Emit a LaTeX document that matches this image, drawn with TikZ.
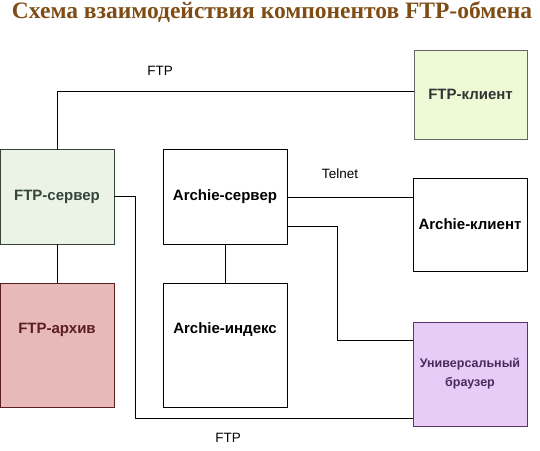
\documentclass[tikz,border=0pt]{standalone}
\usepackage{fontspec}
\setmainfont{Liberation Serif}
\setsansfont{Liberation Sans}
\usetikzlibrary{calc,positioning}
\definecolor{clientfill}{HTML}{EEF9D5}
\definecolor{serverfill}{HTML}{EAF3E6}
\definecolor{serverline}{HTML}{34443A}
\definecolor{archivefill}{HTML}{E8B9B9}
\definecolor{archiveline}{HTML}{5A1E1E}
\definecolor{browserfill}{HTML}{E8CCF8}
\definecolor{browserline}{HTML}{5E3470}
\definecolor{titlebrown}{HTML}{7E4C14}

\begin{document}
\begin{tikzpicture}[x=1pt,y=-1pt,
    box/.style={draw,rectangle,inner sep=0pt,font=\sffamily\bfseries\fontsize{15}{18}\selectfont,align=center},
    proto/.style={font=\sffamily\fontsize{13.5}{16}\selectfont},
    wire/.style={draw,line width=0.8pt}]
\useasboundingbox (0,0) rectangle (540,450);
\node (title) [text=titlebrown] at (272,12) {\fontsize{23.5}{28}\selectfont\bfseries Схема взаимодействия компонентов FTP-обмена};

\node (ftpclient) [box,fill=clientfill,draw=black!60,minimum width=113pt,minimum height=89pt,text=black!80] at (470.5,94.5) {FTP-клиент};
\node (ftpserver) [box,fill=serverfill,draw=serverline,minimum width=114pt,minimum height=95pt,text=serverline] at (57,196.5) {FTP-сервер};
\node (ftparchive) [box,fill=archivefill,draw=archiveline,minimum width=114pt,minimum height=124pt,text depth=34pt,text=archiveline] at (57,345) {FTP-архив};
\node (archieserver) [box,fill=white,minimum width=124pt,minimum height=95pt] at (225,196.5) {Archie-сервер};
\node (archieindex) [box,fill=white,minimum width=124pt,minimum height=124pt,text depth=34pt] at (225,345) {Archie-индекс};
\node (archieclient) [box,fill=white,minimum width=114pt,minimum height=93pt] at (470,224.5) {Archie-клиент};
\node (browser) [box,fill=browserfill,draw=browserline,minimum width=114pt,minimum height=104pt,text=browserline!80!black,font=\sffamily\bfseries\fontsize{12.5}{19}\selectfont] at (470,374) {Универсальный\\браузер};

\draw[wire] (ftpserver.north) |- ($(ftpclient.north west)+(0,42)$);
\draw[wire] (ftpserver.south) -- (ftparchive.north);
\draw[wire] (ftpserver.east) -- ++(21,0) |- ($(browser.south west)+(0,-8)$);
\draw[wire] ($(archieserver.north east)+(0,49)$) coordinate (telnetstart) -- (telnetstart -| archieclient.west);
\draw[wire] ($(archieserver.north east)+(0,78)$) -- ++(50,0) |- ($(browser.north west)+(0,19)$);
\draw[wire] (archieserver.south) -- (archieindex.north);

\node (ftptop) [proto] at (160,71) {FTP};
\node (telnet) [proto] at (340,174) {Telnet};
\node (ftpbottom) [proto] at (228,438) {FTP};
\end{tikzpicture}
\end{document}
